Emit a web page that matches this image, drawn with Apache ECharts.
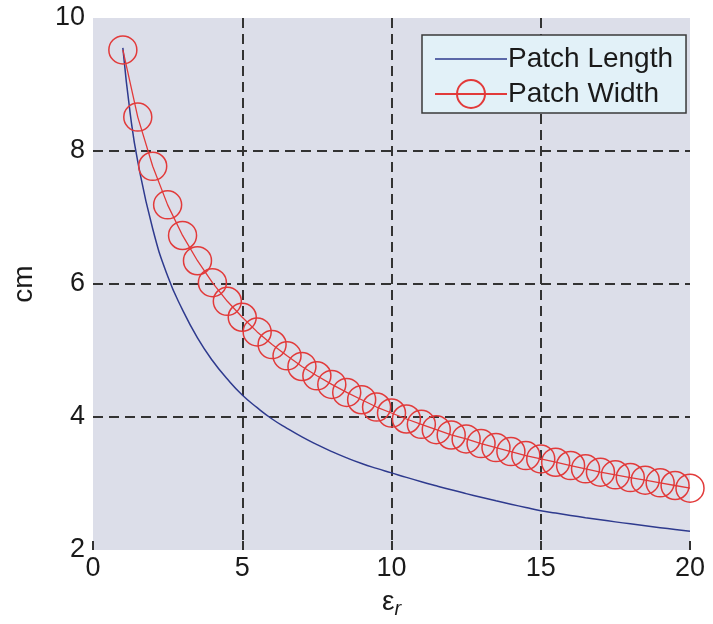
<!DOCTYPE html>
<html>
<head>
<meta charset="utf-8">
<script src="https://cdn.jsdelivr.net/npm/echarts@6/dist/echarts.min.js"></script>
<style>
  html, body { margin: 0; padding: 0; background: #fff; }
  #main { width: 713px; height: 624px; }
</style>
</head>
<body>
<div id="main"></div>
<script>
// permittivity values where the width markers sit
var erWidth = [1, 1.5, 2, 2.5, 3, 3.5, 4, 4.5, 5, 5.5, 6, 6.5, 7, 7.5, 8, 8.5, 9, 9.5, 10,
    10.5, 11, 11.5, 12, 12.5, 13, 13.5, 14, 14.5, 15, 15.5, 16, 16.5, 17, 17.5, 18, 18.5, 19, 19.5, 20];
var patchWidth = [9.52, 8.51, 7.77, 7.19, 6.73, 6.35, 6.02, 5.74, 5.50, 5.28, 5.09, 4.92, 4.76, 4.62, 4.49,
    4.37, 4.26, 4.15, 4.06, 3.97, 3.89, 3.81, 3.73, 3.67, 3.60, 3.54, 3.48, 3.42, 3.37, 3.32, 3.27,
    3.22, 3.17, 3.13, 3.09, 3.05, 3.01, 2.97, 2.93];

var erLength = [1, 1.25, 1.5, 2, 2.5, 3, 3.5, 4, 4.5, 5, 5.5, 6, 6.5, 7, 7.5, 8, 8.5, 9, 9.5, 10,
    10.5, 11, 11.5, 12, 12.5, 13, 13.5, 14, 14.5, 15, 15.5, 16, 16.5, 17, 17.5, 18, 18.5, 19, 19.5, 20];
var patchLength = [9.55, 8.55, 7.84, 6.83, 6.12, 5.61, 5.19, 4.85, 4.57, 4.33, 4.14, 3.97, 3.83, 3.70, 3.585,
    3.48, 3.385, 3.30, 3.227, 3.16, 3.092, 3.027, 2.965, 2.905, 2.848, 2.793, 2.74, 2.689, 2.639, 2.591, 2.555,
    2.52, 2.486, 2.454, 2.423, 2.393, 2.364, 2.336, 2.308, 2.281];

var xTicks = [0, 5, 10, 15, 20];
var yTicks = [2, 4, 6, 8, 10];

function pairs(xs, ys) {
    return xs.map(function (x, i) { return [x, ys[i]]; });
}

var font = 'Liberation Sans, Arial, Helvetica, sans-serif';
var gridLine = { show: true, showMinLine: false, showMaxLine: false,
    lineStyle: { color: '#333333', width: 2, type: [10, 6] } };

var chart = echarts.init(document.getElementById('main'), null, { renderer: 'canvas' });
chart.setOption({
    animation: false,
    backgroundColor: '#ffffff',
    grid: {
        left: 93, right: 23, top: 18, bottom: 74,
        show: true, backgroundColor: '#dcdee9', borderWidth: 0
    },
    legend: {
        left: 422, top: 35,
        orient: 'vertical',
        backgroundColor: '#e2f1f8',
        borderColor: '#3a3a3a',
        borderWidth: 1.5,
        borderRadius: 0,
        padding: [10, 13, 4, 12],
        itemGap: 6,
        itemWidth: 72,
        itemHeight: 35,
        textStyle: { fontFamily: font, fontSize: 28, color: '#1a1a1a', padding: [0, 0, 0, -4] },
        data: [
            { name: 'Patch Length', icon: 'path://M0,0H72V1.5H0Z' },
            { name: 'Patch Width' }
        ]
    },
    xAxis: {
        type: 'value',
        min: xTicks[0], max: xTicks[xTicks.length - 1], interval: 5,
        name: 'ε{sub|r}',
        nameLocation: 'middle',
        nameGap: 35,
        nameTextStyle: {
            fontFamily: font, fontSize: 28, color: '#1a1a1a',
            rich: { sub: { fontFamily: font, fontSize: 20, fontStyle: 'italic', verticalAlign: 'bottom', padding: [14, 0, 0, 0] } }
        },
        axisLine: { show: false },
        axisTick: { show: true, inside: true, length: 9, lineStyle: { color: '#333333', width: 2 } },
        axisLabel: { fontFamily: font, fontSize: 27, color: '#1a1a1a', margin: 5 },
        splitLine: gridLine
    },
    yAxis: {
        type: 'value',
        min: yTicks[0], max: yTicks[yTicks.length - 1], interval: 2,
        name: 'cm',
        nameLocation: 'middle',
        nameGap: 55,
        nameTextStyle: { fontFamily: font, fontSize: 28, color: '#1a1a1a' },
        axisLine: { show: false },
        axisTick: { show: false },
        axisLabel: { fontFamily: font, fontSize: 27, color: '#1a1a1a', margin: 8 },
        splitLine: gridLine
    },
    series: [
        {
            name: 'Patch Length',
            type: 'line',
            data: pairs(erLength, patchLength),
            smooth: true,
            showSymbol: false,
            symbol: 'none',
            lineStyle: { color: '#2e3a8e', width: 1.5 },
            itemStyle: { color: '#2e3a8e' },
            z: 2
        },
        {
            name: 'Patch Width',
            type: 'line',
            data: pairs(erWidth, patchWidth),
            symbol: 'circle',
            symbolSize: 28,
            lineStyle: { color: '#e23a3a', width: 1.3 },
            itemStyle: { color: 'rgba(0,0,0,0)', borderColor: '#e23a3a', borderWidth: 1.5 },
            z: 3
        }
    ]
});
</script>
</body>
</html>
